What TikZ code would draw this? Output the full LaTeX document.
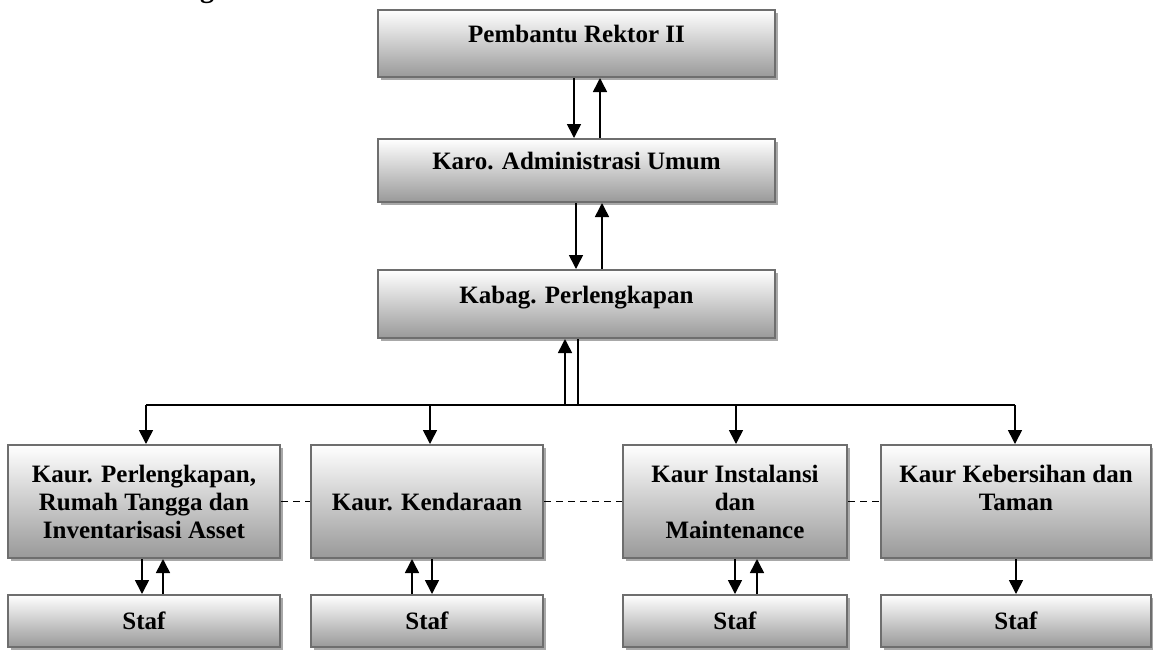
\documentclass[tikz,border=0pt]{standalone}
\usepackage{fontspec}
\setmainfont{Liberation Serif}
\usetikzlibrary{arrows.meta,shadows,calc}

\definecolor{boxline}{HTML}{6E6E6E}
\definecolor{boxbottom}{HTML}{999999}
\definecolor{shadowgray}{HTML}{A8A8A8}

\begin{document}
\begin{tikzpicture}[x=0.5pt,y=-0.5pt,
  unit/.style={draw=boxline, line width=1pt, top color=white, bottom color=boxbottom,
    font=\bfseries\fontsize{12.5}{14}\selectfont, align=center, inner sep=0pt,
    drop shadow={shadow xshift=1.5pt, shadow yshift=-1.5pt, fill=shadowgray, opacity=1}},
  headbox/.style={unit, minimum width=198.5pt, text height=5pt, text depth=6pt},
  kaurbox/.style={unit, minimum height=56.5pt},
  stafbox/.style={unit, minimum height=26pt},
  arr/.style={line width=0.8pt, -{Triangle[width=7pt,length=7pt]}},
  ln/.style={line width=0.8pt},
  dsh/.style={line width=0.9pt, dash pattern=on 3.5pt off 2.5pt}]

\useasboundingbox (0,0) rectangle (1153,650);

% heading fragment above the chart
\node[font=\bfseries\fontsize{14}{16}\selectfont, anchor=base, inner sep=0pt] (cap) at (207,-3) {g};

% upper chain
\node[headbox, minimum height=33.5pt] (pr) at (576.5,43.5) {Pembantu Rektor II};
\node[headbox, minimum height=31.5pt] (karo) at (576.5,170.5) {Karo. Administrasi Umum};
\node[headbox, minimum height=34pt] (kabag) at (576.5,304) {Kabag. Perlengkapan};

% kaur units
\node[kaurbox, minimum width=136pt] (k1) at (144,501.5) {Kaur. Perlengkapan,\\Rumah Tangga dan\\Inventarisasi Asset};
\node[kaurbox, minimum width=116pt] (k2) at (427,501.5) {Kaur. Kendaraan};
\node[kaurbox, minimum width=112pt] (k3) at (735,501.5) {Kaur Instalansi\\dan\\Maintenance};
\node[kaurbox, minimum width=135pt] (k4) at (1016,501.5) {Kaur Kebersihan dan\\Taman\\~};

% staff
\node[stafbox, minimum width=136pt] (s1) at (144,621) {Staf};
\node[stafbox, minimum width=116pt] (s2) at (427,621) {Staf};
\node[stafbox, minimum width=112pt] (s3) at (735,621) {Staf};
\node[stafbox, minimum width=135pt] (s4) at (1016,621) {Staf};

% two-way links in the upper chain
\draw[arr] ($(pr.south)+(-2.5,0)$) -- ($(karo.north)+(-2.5,0)$);
\draw[arr] ($(karo.north)+(23.5,0)$) -- ($(pr.south)+(23.5,0)$);
\draw[arr] ($(karo.south)+(-0.5,0)$) -- ($(kabag.north)+(-0.5,0)$);
\draw[arr] ($(kabag.north)+(25.5,0)$) -- ($(karo.south)+(25.5,0)$);

% distribution bus
\coordinate (busL) at (146,405);
\coordinate (busR) at (1015,405);
\draw[ln] (busL) -- (busR);
\draw[arr] ($(kabag.south |- busL)+(-11.5,0)$) -- ($(kabag.south)+(-11.5,0)$);
\draw[ln] ($(kabag.south)+(1.5,0)$) -- ($(kabag.south |- busL)+(1.5,0)$);
\draw[arr] (busL) -- (busL |- k1.north);
\draw[arr] ($(k2.north |- busL)+(3,0)$) -- ($(k2.north)+(3,0)$);
\draw[arr] ($(k3.north |- busL)+(1,0)$) -- ($(k3.north)+(1,0)$);
\draw[arr] (busR) -- (busR |- k4.north);

% coordination between units
\draw[dsh] (k1.east) -- (k2.west);
\draw[dsh] (k2.east) -- (k3.west);
\draw[dsh] (k3.east) -- (k4.west);

% units and their staff
\draw[arr] ($(k1.south)+(-2,0)$) -- ($(s1.north)+(-2,0)$);
\draw[arr] ($(s1.north)+(19,0)$) -- ($(k1.south)+(19,0)$);
\draw[arr] ($(s2.north)+(-15,0)$) -- ($(k2.south)+(-15,0)$);
\draw[arr] ($(k2.south)+(5,0)$) -- ($(s2.north)+(5,0)$);
\draw[arr] (k3.south) -- (s3.north);
\draw[arr] ($(s3.north)+(22,0)$) -- ($(k3.south)+(22,0)$);
\draw[arr] (k4.south) -- (s4.north);

\end{tikzpicture}
\end{document}
